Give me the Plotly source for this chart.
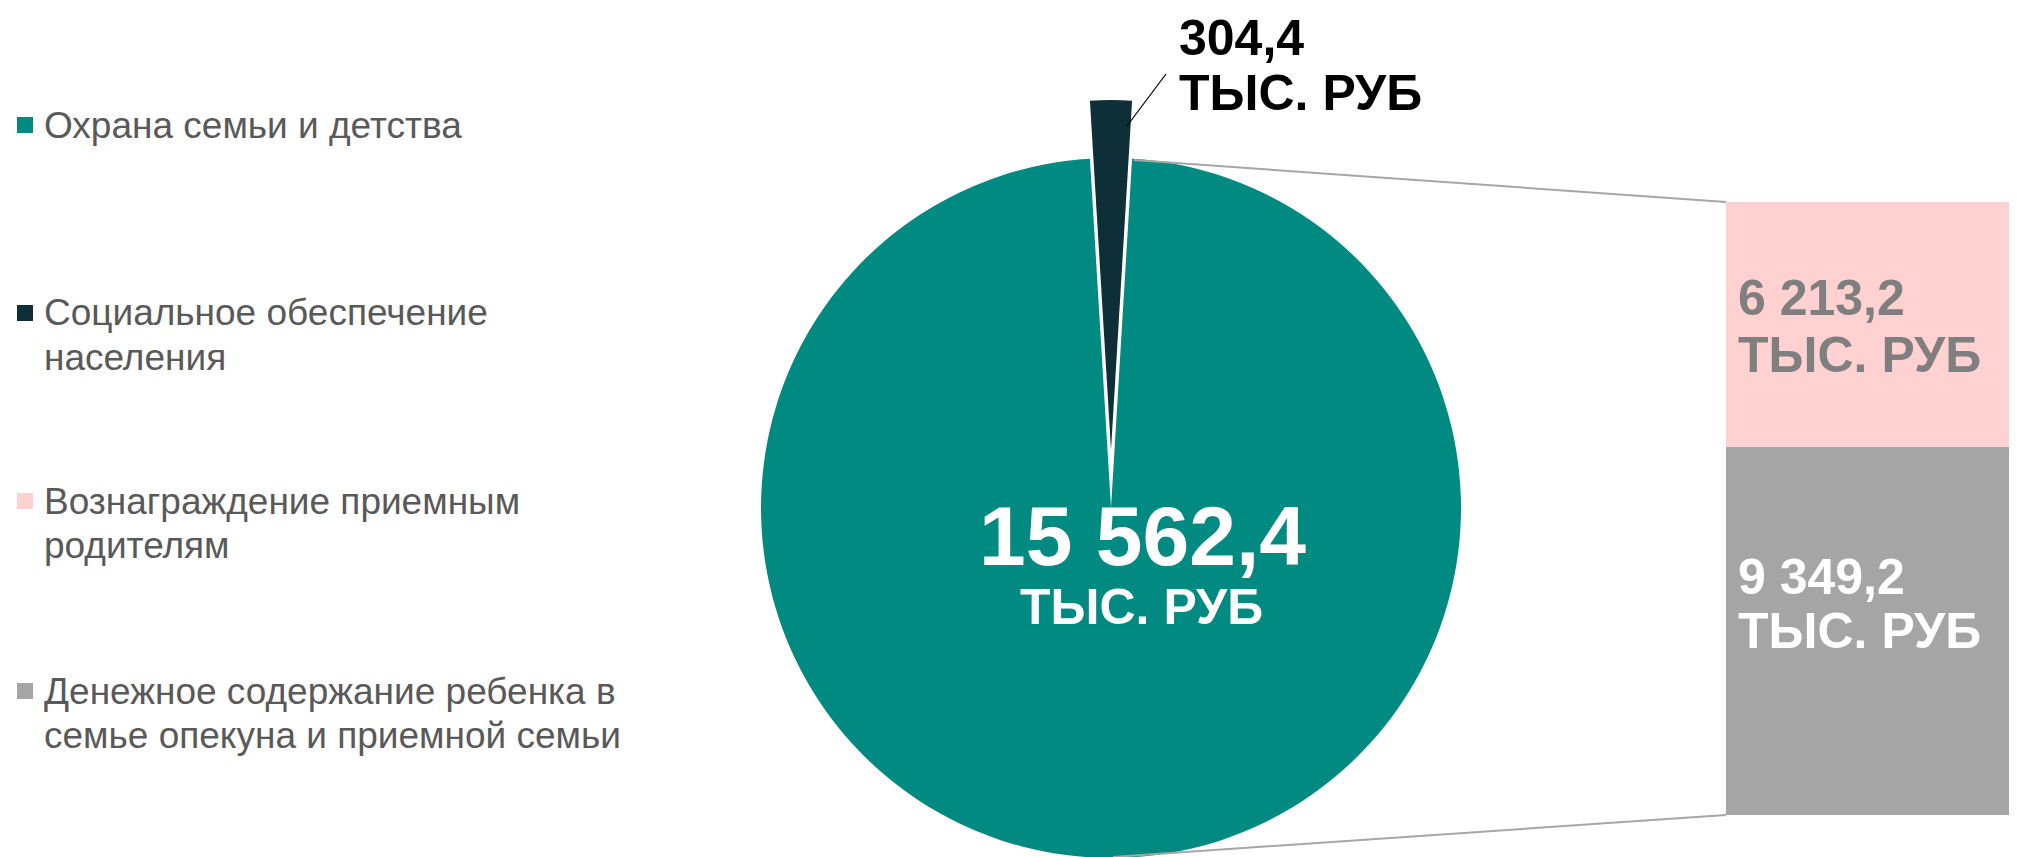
import textwrap

import plotly.graph_objects as go

W, H = 2017, 857

# pie: the exploded small slice + the big slice that is broken out into the bar
pie_labels = ["Социальное обеспечение населения", "Охрана семьи и детства"]
pie_values = [304.4, 15562.4]
pie_colors = ["#0E2F37", "#008A81"]

# bar of pie (bottom -> top)
bar_labels = ["Денежное содержание ребенка в семье опекуна и приемной семьи",
              "Вознаграждение приемным родителям"]
bar_values = [9349.2, 6213.2]
bar_colors = ["#A5A5A5", "#FFD1D1"]
bar_text_colors = ["white", "#7F7F7F"]

legend_labels = [pie_labels[1], pie_labels[0], bar_labels[1], bar_labels[0]]
legend_colors = [pie_colors[1], pie_colors[0], bar_colors[1], bar_colors[0]]

unit = "ТЫС. РУБ"
FONT = "Liberation Sans, Arial, sans-serif"

# the page body keeps its default 8px margin, so positions below are screen pixels
OFF = 8


def fx(p):
    return (p - OFF) / W


def fy(p):
    return 1 - (p - OFF) / H


def fmt(v):
    return f"{v:,.1f}".replace(",", " ").replace(".", ",")


# layout geometry in screen pixels
CX, CY, R, LIFT = 1111, 508, 350, 58
BAR_LEFT, BAR_TOP, BAR_BOTTOM = 1726, 202, 815

total = sum(pie_values)
half_angle = 180 * pie_values[0] / total

fig = go.Figure()

# base pie (slot of the small slice left empty)
fig.add_trace(go.Pie(
    labels=pie_labels, values=pie_values, sort=False, direction="clockwise",
    rotation=-half_angle, textinfo="none", showlegend=False,
    marker=dict(colors=["rgba(0,0,0,0)", pie_colors[1]],
                line=dict(color="white", width=[1.5, 0])),
    domain=dict(x=[fx(CX - R), fx(CX + R)], y=[max(0, fy(CY + R)), fy(CY - R)]),
))
# exploded small slice
fig.add_trace(go.Pie(
    labels=pie_labels, values=pie_values, sort=False, direction="clockwise",
    rotation=-half_angle, textinfo="none", showlegend=False,
    marker=dict(colors=[pie_colors[0], "rgba(0,0,0,0)"], line=dict(width=0)),
    domain=dict(x=[fx(CX - R), fx(CX + R)],
                y=[fy(CY - LIFT + R), fy(CY - LIFT - R)]),
))

for lab, val, col in zip(bar_labels, bar_values, bar_colors):
    fig.add_trace(go.Bar(x=[0], y=[val], name=lab, width=1, marker_color=col,
                         marker_line_width=0, textposition="none", showlegend=False))

ann = []

# labels on the bar
label_shifts = [(54, 0), (26, -31)]
base = 0
for val, tcol, (s1, s2) in zip(bar_values, bar_text_colors, label_shifts):
    mid = base + val / 2
    for txt, s in ((fmt(val), s1), (unit, s2)):
        ann.append(dict(xref="paper", yref="y", x=fx(1736), y=mid, yshift=s,
                        xanchor="left", yanchor="middle", showarrow=False, text=txt,
                        font=dict(family=FONT, size=50, color=tcol, weight="bold")))
    base += val

# big slice label
ann.append(dict(xref="paper", yref="paper", x=fx(1142), y=fy(536), showarrow=False,
                text=fmt(pie_values[1]), xanchor="center", yanchor="middle",
                font=dict(family=FONT, size=84, color="white", weight="bold")))
ann.append(dict(xref="paper", yref="paper", x=fx(1141), y=fy(607), showarrow=False,
                text=unit, xanchor="center", yanchor="middle",
                font=dict(family=FONT, size=50, color="white", weight="bold")))

# small slice label
for txt, yy in ((fmt(pie_values[0]), 38), (unit, 93)):
    ann.append(dict(xref="paper", yref="paper", x=fx(1177), y=fy(yy), showarrow=False,
                    text=txt, xanchor="left", yanchor="middle",
                    font=dict(family=FONT, size=50, color="black", weight="bold")))

shapes = [
    dict(type="line", xref="paper", yref="paper", x0=fx(1127), y0=fy(126),
         x1=fx(1166), y1=fy(74), line=dict(color="black", width=1.2)),
    # connectors pie -> bar
    dict(type="line", xref="paper", yref="paper", x0=fx(1134), y0=fy(160),
         x1=fx(BAR_LEFT), y1=fy(BAR_TOP), line=dict(color="#A6A6A6", width=2)),
    dict(type="line", xref="paper", yref="paper", x0=fx(1113), y0=fy(857),
         x1=fx(BAR_LEFT), y1=fy(BAR_BOTTOM), line=dict(color="#A6A6A6", width=2)),
]

# legend
legend_rows = [125, 313, 501, 691]
for lab, col, y0 in zip(legend_labels, legend_colors, legend_rows):
    shapes.append(dict(type="rect", xref="paper", yref="paper", x0=fx(17), x1=fx(33),
                       y0=fy(y0 + 8), y1=fy(y0 - 8), fillcolor=col, line_width=0))
    for i, line in enumerate(textwrap.wrap(lab, 30)):
        ann.append(dict(xref="paper", yref="paper", x=fx(42), y=fy(y0 + 44 * i),
                        xanchor="left", yanchor="middle", showarrow=False, text=line,
                        font=dict(family=FONT, size=37, color="#595959")))

fig.update_layout(
    width=W, height=H, margin=dict(l=0, r=0, t=0, b=0),
    paper_bgcolor="white", plot_bgcolor="white",
    barmode="stack", showlegend=False,
    xaxis=dict(domain=[fx(BAR_LEFT), 1], range=[-0.5, 0.5], visible=False),
    yaxis=dict(domain=[fy(BAR_BOTTOM), fy(BAR_TOP)], range=[0, sum(bar_values)],
               visible=False),
    annotations=ann, shapes=shapes,
)

fig.write_html("out.html")
